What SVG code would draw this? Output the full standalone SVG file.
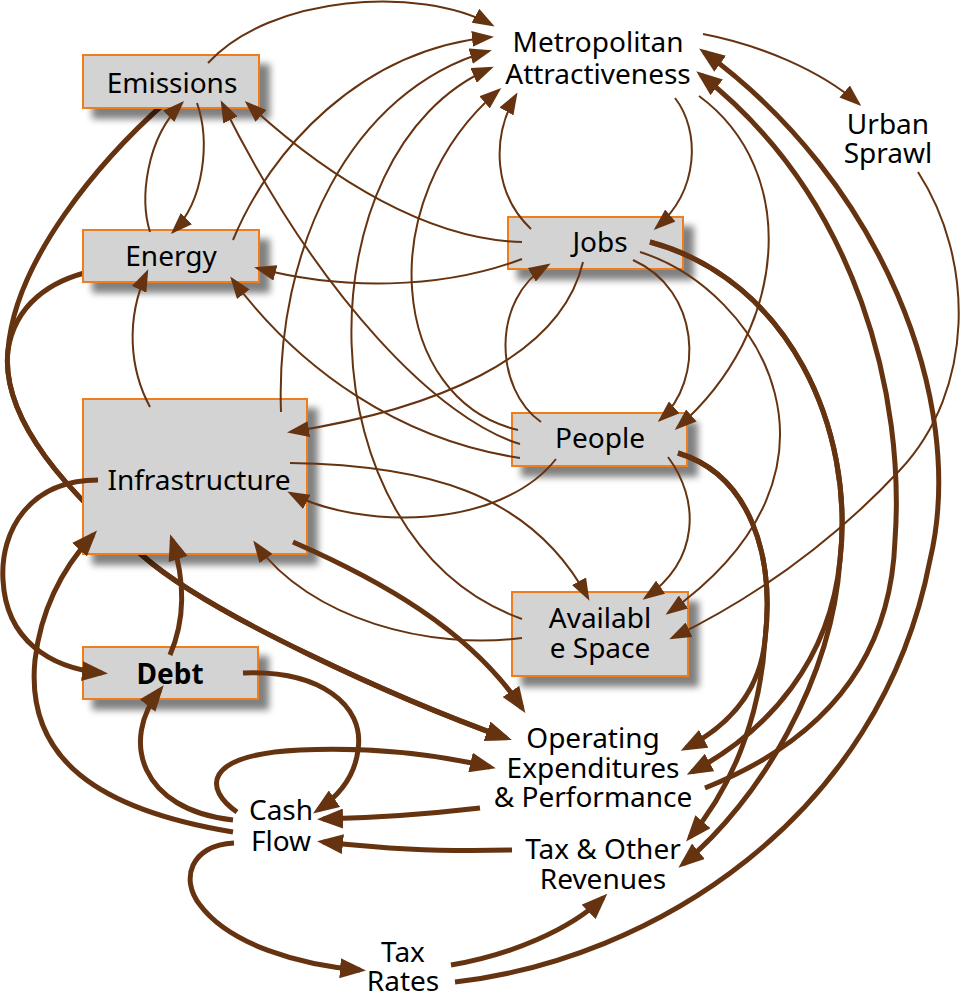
<svg xmlns="http://www.w3.org/2000/svg" width="960" height="995" viewBox="0 0 960 995">
<style>
.box{fill:#d3d3d3;stroke:#f07d1e;stroke-width:2}
.lbl{font-family:"Noto Sans","Open Sans",sans-serif;font-size:28px;fill:#000;text-anchor:middle}
.b{font-weight:bold}
.t{fill:none;stroke:#663311;stroke-width:2;marker-end:url(#at)}
.k{fill:none;stroke:#663311;stroke-width:5;marker-end:url(#ak)}
</style>
<defs>
<marker id="at" markerUnits="userSpaceOnUse" markerWidth="22" markerHeight="16" refX="19" refY="8" orient="auto"><path d="M0,0 L22,8 L0,16 z" fill="#663311"/></marker>
<marker id="ak" markerUnits="userSpaceOnUse" markerWidth="26" markerHeight="20" refX="20" refY="10" orient="auto"><path d="M0,0 L26,10 L0,20 z" fill="#663311"/></marker>
<filter id="sh" x="-20%" y="-20%" width="150%" height="170%">
<feOffset in="SourceAlpha" dx="10" dy="10"/>
<feGaussianBlur stdDeviation="3.5"/>
<feComponentTransfer><feFuncA type="linear" slope="0.5"/></feComponentTransfer>
<feMerge><feMergeNode/><feMergeNode in="SourceGraphic"/></feMerge>
</filter>
</defs>
<rect width="960" height="995" fill="#fff"/>
<g id="connectors-under">
<path class="k" d="M167,101 C100,160 15,260 8,350 C0,420 70,495 143,556 C210,615 400,700 506,738"/>
<path class="k" d="M93,271 C50,280 15,305 8,350 C0,420 70,495 143,556 C210,615 400,700 506,738"/>
</g>
<g id="node-emissions"><rect class="box" filter="url(#sh)" x="83" y="55" width="176" height="53"/><text class="lbl" x="172" y="93">Emissions</text></g>
<g id="node-energy"><rect class="box" filter="url(#sh)" x="83" y="230" width="176" height="52"/><text class="lbl" x="171" y="266">Energy</text></g>
<g id="node-infrastructure"><rect class="box" filter="url(#sh)" x="83" y="399" width="224" height="155"/><text class="lbl" x="199" y="490">Infrastructure</text></g>
<g id="node-debt"><rect class="box" filter="url(#sh)" x="83" y="647" width="175" height="52"/><text class="lbl b" x="170" y="684">Debt</text></g>
<g id="node-jobs"><rect class="box" filter="url(#sh)" x="508" y="217" width="175" height="52"/><text class="lbl" x="600" y="252">Jobs</text></g>
<g id="node-people"><rect class="box" filter="url(#sh)" x="512" y="413" width="175" height="53"/><text class="lbl" x="600" y="448">People</text></g>
<g id="node-space"><rect class="box" filter="url(#sh)" x="512" y="592" width="176" height="84"/><text class="lbl" x="600" y="628">Availabl</text><text class="lbl" x="600" y="658">e Space</text></g>
<g id="node-attractiveness"><text class="lbl" x="598" y="52">Metropolitan</text><text class="lbl" x="598" y="84">Attractiveness</text></g>
<g id="node-sprawl"><text class="lbl" x="888" y="134">Urban</text><text class="lbl" x="888" y="163">Sprawl</text></g>
<g id="node-opex"><text class="lbl" x="593" y="748">Operating</text><text class="lbl" x="593" y="778">Expenditures</text><text class="lbl" x="593" y="807">&amp; Performance</text></g>
<g id="node-cashflow"><text class="lbl" x="281" y="820">Cash</text><text class="lbl" x="281" y="851">Flow</text></g>
<g id="node-revenues"><text class="lbl" x="603" y="859">Tax &amp; Other</text><text class="lbl" x="603" y="889">Revenues</text></g>
<g id="node-taxrates"><text class="lbl" x="403" y="962">Tax</text><text class="lbl" x="403" y="991">Rates</text></g>
<g id="connectors">
<path class="t" d="M208,63 C270,-5 420,-15 492,25"/>
<path class="t" d="M233,240 C270,150 360,50 491,37"/>
<path class="t" d="M281,412 C275,250 350,90 489,51"/>
<path class="t" d="M522,619 C300,540 300,150 491,68"/>
<path class="t" d="M518,430 C390,400 370,200 499,90"/>
<path class="t" d="M531,229 C495,195 490,140 516,95"/>
<path class="t" d="M675,98 C700,130 700,190 656,228"/>
<path class="t" d="M703,34 C760,45 820,70 859,104"/>
<path class="t" d="M918,172 C975,260 975,390 900,470 C830,545 750,600 672,638"/>
<path class="t" d="M699,96 C800,170 790,330 677,428"/>
<path class="t" d="M633,260 C700,290 705,380 660,420"/>
<path class="t" d="M640,252 C760,290 870,470 668,613"/>
<path class="t" d="M522,242 C430,240 330,180 247,103"/>
<path class="t" d="M522,259 C440,290 340,290 257,268"/>
<path class="t" d="M583,262 C560,360 430,410 290,432"/>
<path class="t" d="M541,422 C495,390 490,300 548,265"/>
<path class="t" d="M520,444 C440,420 320,300 222,103"/>
<path class="t" d="M520,458 C400,440 300,370 232,279"/>
<path class="t" d="M556,459 C500,530 360,530 290,493"/>
<path class="t" d="M668,457 C700,500 700,560 645,598"/>
<path class="t" d="M290,463 C420,465 530,490 588,598"/>
<path class="t" d="M522,638 C430,650 310,620 255,543"/>
<path class="t" d="M150,232 C140,200 145,140 182,103"/>
<path class="t" d="M197,103 C210,140 205,200 173,232"/>
<path class="t" d="M150,407 C130,370 125,320 147,272"/>
<path class="k" d="M650,242 C790,280 855,430 840,560 C830,660 770,730 692,772"/>
<path class="k" d="M650,242 C790,280 855,430 840,560 C832,680 760,800 683,864"/>
<path class="k" d="M678,453 C750,475 775,555 765,640 C760,690 730,725 686,748"/>
<path class="k" d="M678,453 C750,475 775,555 765,640 C760,720 730,790 690,837"/>
<path class="k" d="M705,788 C800,750 890,680 895,540 C905,400 860,200 701,75"/>
<path class="k" d="M455,982 C650,960 880,820 930,560 C968,400 880,180 704,52"/>
<path class="k" d="M293,542 C380,580 470,630 522,708"/>
<path class="k" d="M98,480 C30,480 0,530 3,580 C6,640 50,668 102,673"/>
<path class="k" d="M170,655 C185,620 185,580 172,540"/>
<path class="k" d="M233,820 C140,810 120,740 160,690"/>
<path class="k" d="M233,832 C100,810 25,760 35,660 C42,600 70,560 93,535"/>
<path class="k" d="M243,673 C320,670 365,705 358,750 C355,775 340,795 318,810"/>
<path class="k" d="M237,812 C205,790 200,755 300,750 C370,747 430,753 490,767"/>
<path class="k" d="M480,808 C420,815 370,818 323,819"/>
<path class="k" d="M512,850 C430,852 380,848 323,842"/>
<path class="k" d="M234,843 C190,845 180,880 200,905 C230,945 300,965 360,970"/>
<path class="k" d="M451,965 C510,955 570,930 603,898"/>
</g>
</svg>
